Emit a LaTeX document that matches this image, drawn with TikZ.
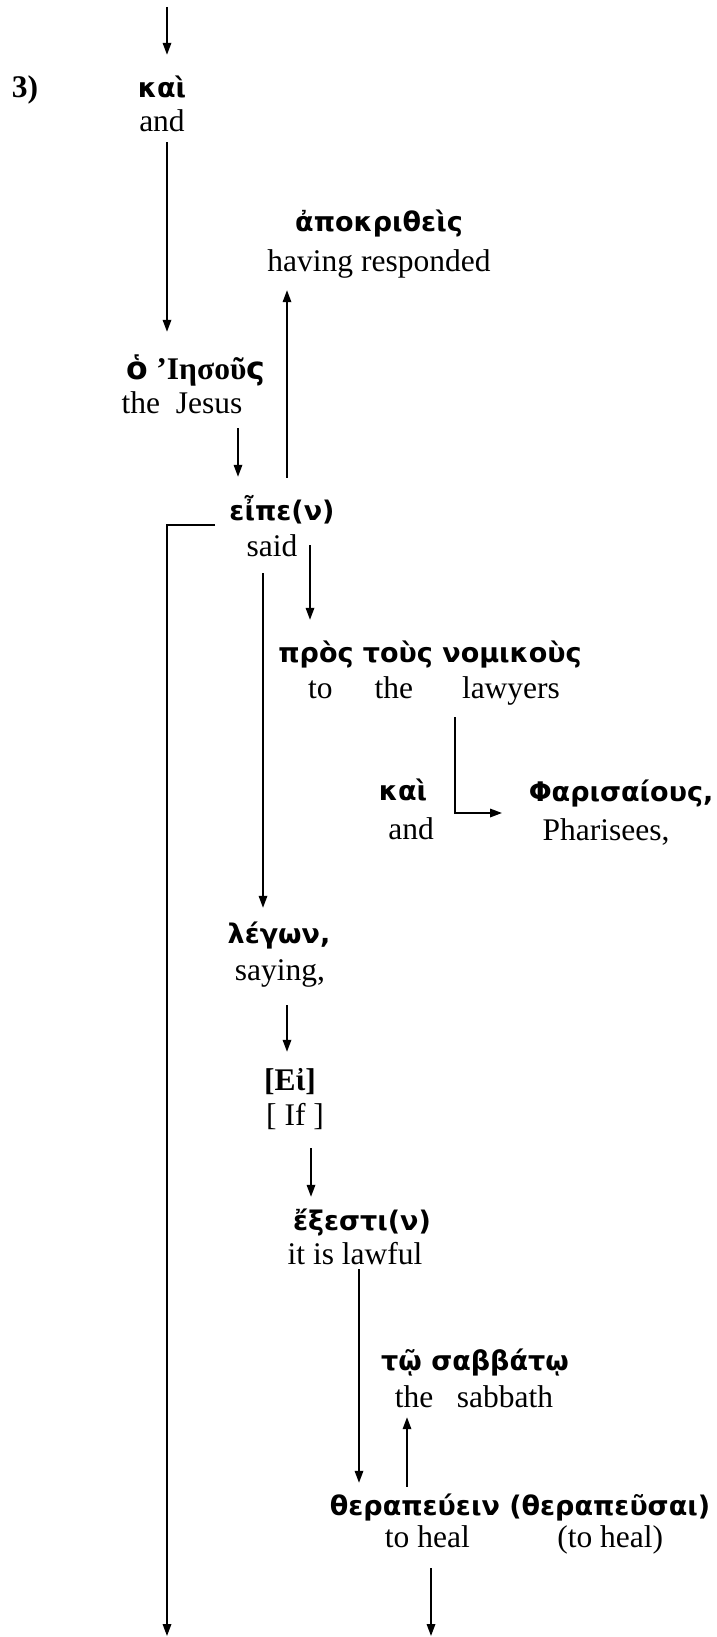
\documentclass[tikz,border=0pt]{standalone}
\usepackage{fontspec}
\setmainfont{Liberation Serif}
\newfontfamily\grk{DejaVu Sans}
\usetikzlibrary{arrows.meta,calc}

\tikzset{greek/.style={font=\grk\bfseries\fontsize{27}{31}\selectfont,anchor=base,inner sep=0pt,text height=20pt,text depth=6pt},
  serifgreek/.style={greek,font=\bfseries\fontsize{31.5}{36}\selectfont},
  gloss/.style={font=\fontsize{31.5}{36}\selectfont,anchor=base,inner sep=0pt,text height=22pt,text depth=7pt},
  link/.style={line width=1.7pt,-{Triangle[length=12pt,width=8.5pt]}}}

\begin{document}
\begin{tikzpicture}[x=1pt,y=-1pt]
        \useasboundingbox (0,0) rectangle (716,1637);
        \node[serifgreek] (num) at (25,98) {3)};
        \node[greek] (kai-gr) at (162,98) {καὶ};
        \node[gloss] (kai-en) at (162,132) {and};
        \node[greek] (apok-gr) at (379,232) {ἀποκριθεὶς};
        \node[gloss] (apok-en) at (379,272) {having responded};
        \node[serifgreek] (jesus-gr) at (196,379) {{\grk ὁ} ’Ιησοῦ{\grk ς}};
        \node[gloss] (jesus-en) at (182,413) {the\hspace{16pt}Jesus};
        \node[greek] (eipe-gr) at (282,520) {εἶπε(ν)};
        \node[gloss] (eipe-en) at (272,556) {said};
        \node[greek] (pros-gr) at (430,662) {πρὸς τοὺς νομικοὺς};
        \node[gloss] (pros-en) at (434,698) {to\hspace{42pt}the\hspace{49pt}lawyers};
        \node[greek] (kai2-gr) at (403,800) {καὶ};
        \node[gloss] (kai2-en) at (411,839) {and};
        \node[greek] (phar-gr) at (621,801) {Φαρισαίους,};
        \node[gloss] (phar-en) at (606,840) {Pharisees,};
        \node[greek] (legon-gr) at (279,943) {λέγων,};
        \node[gloss] (legon-en) at (280,980) {saying,};
        \node[serifgreek] (ei-gr) at (290,1090) {[Εἰ]};
        \node[gloss] (ei-en) at (295,1125) {[ If ]};
        \node[greek] (exesti-gr) at (362,1230) {ἔξεστι(ν)};
        \node[gloss] (exesti-en) at (355,1264) {it is lawful};
        \node[greek] (tw-gr) at (475,1370) {τῷ σαββάτῳ};
        \node[gloss] (tw-en) at (474,1407) {the\hspace{23.5pt}sabbath};
        \node[greek] (ther-gr) at (520,1515) {θεραπεύειν (θεραπεῦσαι)};
        \node[gloss] (ther-en) at (524,1547) {to heal\hspace{87.5pt}(to heal)};
        \coordinate (top) at (167,7);
        \coordinate (leftend) at (167,1636);
        \coordinate (therend) at (431,1636);
        % connectors
        \draw[link] (top) -- ($(top |- kai-gr.north)+(0,-23)$);
        \draw[link] ($(kai-en.south)+(5,3)$) -- ($(kai-en.south |- jesus-gr.north)+(5,-27)$);
        \draw[link] ($(jesus-en.south)+(56,8)$) -- ($(jesus-en.south |- eipe-gr.north)+(56,-23)$);
        \draw[link] ($(eipe-gr.north)+(5,-22)$) -- ($(eipe-gr.north |- apok-en.south)+(5,11)$);
        \draw[link] ($(eipe-gr.base)+(-67,5)$) -| (leftend);
        \draw[link] ($(eipe-en.base)+(38,-11)$) -- ($(eipe-en.base |- pros-gr.north)+(38,-22)$);
        \draw[link] ($(eipe-en.south)+(-9,10)$) -- ($(eipe-en.south |- legon-gr.north)+(-9,-15)$);
        \draw[link] ($(pros-en.south)+(21,12)$) |- ($(phar-gr.base)+(-119,12)$);
        \draw[link] ($(legon-en.base)+(7,25)$) -- ($(legon-en.base |- ei-gr.north)+(7,-18)$);
        \draw[link] ($(ei-en.base)+(16,23)$) -- ($(ei-en.base |- exesti-gr.north)+(16,-13)$);
        \draw[link] ($(exesti-en.base)+(4,5)$) -- ($(exesti-en.base |- ther-gr.north)+(4,-12)$);
        \draw[link] ($(ther-gr.north)+(-113,-8)$) -- ($(ther-gr.north |- tw-en.south)+(-113,3)$);
        \draw[link] ($(ther-en.base)+(-93,21)$) -- (therend);
    \end{tikzpicture}
\end{document}
